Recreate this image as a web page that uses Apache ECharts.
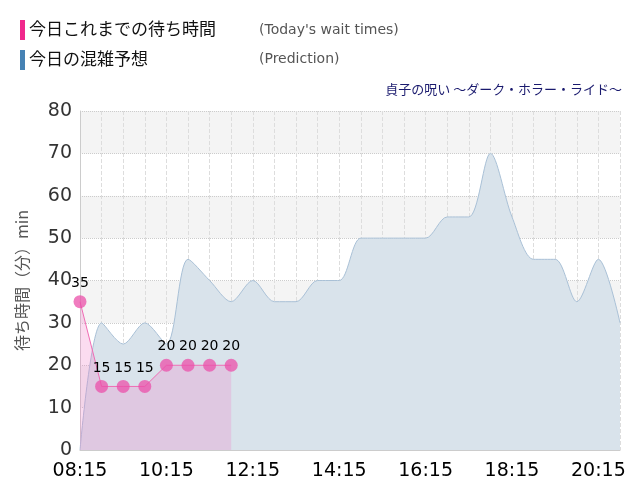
<!DOCTYPE html><html><head><meta charset="utf-8"><script src="https://cdn.jsdelivr.net/npm/echarts@6/dist/echarts.min.js"></script></head><body style="margin:0"><div id="c" style="width:640px;height:500px"></div><script>
const times=['08:15','08:45','09:15','09:45','10:15','10:45','11:15','11:45','12:15','12:45','13:15','13:45','14:15','14:45','15:15','15:45','16:15','16:45','17:15','17:45','18:15','18:45','19:15','19:45','20:15','20:45'];
const actual=[35,15,15,15,20,20,20,20];
const predicted=[0,30,25,30,25,45,40,35,40,35,35,40,40,50,50,50,50,55,55,70,55,45,45,35,45,30];
const yTicks=[0,10,20,30,40,50,60,70,80];
const f='"Noto Sans CJK JP","DejaVu Sans",sans-serif';
const ch=echarts.init(document.getElementById('c'));
ch.setOption({animation:false,
graphic:[
{type:'rect',shape:{x:20,y:20,width:5,height:20},style:{fill:'#f0288c'}},
{type:'text',left:29,top:20,style:{text:'今日これまでの待ち時間',font:'17px '+f,fill:'#111'}},
{type:'text',left:259,top:23,style:{text:"(Today's wait times)",font:'14px "DejaVu Sans"',fill:'#555'}},
{type:'rect',shape:{x:20,y:50,width:5,height:20},style:{fill:'#4682b4'}},
{type:'text',left:29,top:50,style:{text:'今日の混雑予想',font:'17px '+f,fill:'#111'}},
{type:'text',left:259,top:52,style:{text:'(Prediction)',font:'14px "DejaVu Sans"',fill:'#555'}},
{type:'text',right:18,top:83,style:{text:'貞子の呪い ～ダーク・ホラー・ライド～',font:'13px '+f,fill:'#1a1a6e'}},
{type:'text',right:30,top:402,style:{text:"SADAKO'S CURSE: DARK HORROR RIDE",font:'14px "DejaVu Sans"',fill:'#1a1a6e'}},
{type:'text',right:30,top:423,style:{text:'https://usjreal.asumirai.info',font:'14px "DejaVu Sans"',fill:'#555'}}
],
grid:{left:80,right:20,top:111,bottom:50},
xAxis:{type:'category',data:times,boundaryGap:false,
axisLine:{lineStyle:{color:'#ccc'}},axisTick:{show:false},
axisLabel:{interval:3,fontSize:19,color:'#000',fontFamily:'DejaVu Sans',margin:12},
splitLine:{show:true,interval:0,lineStyle:{type:'dashed',color:'#ddd'}}},
yAxis:{type:'value',min:0,max:80,interval:10,name:'待ち時間（分）min',nameLocation:'middle',nameGap:50,
nameTextStyle:{fontSize:16,color:'#555',fontFamily:f},
axisLine:{show:true,lineStyle:{color:'#ccc'}},
axisLabel:{fontSize:19,color:'#333',fontFamily:'DejaVu Sans',formatter:v=>yTicks.includes(v)?v:''},
splitLine:{lineStyle:{type:'dotted',color:'#ccc'}},
splitArea:{show:true,areaStyle:{color:['#fff','#f4f4f4']}}},
series:[
{type:'line',data:predicted,smooth:0.3,symbol:'none',lineStyle:{color:'#a9c0d6',width:1},areaStyle:{color:'#d9e3eb',opacity:1},z:1},
{type:'line',data:actual,symbol:'circle',symbolSize:13,itemStyle:{color:'rgba(235,80,170,0.75)'},lineStyle:{color:'#f06cb4',width:1},
areaStyle:{color:'rgba(240,130,200,0.4)'},label:{show:true,position:'top',fontSize:14,color:'#000',fontFamily:'DejaVu Sans'},z:3}
]});
</script></body></html>
